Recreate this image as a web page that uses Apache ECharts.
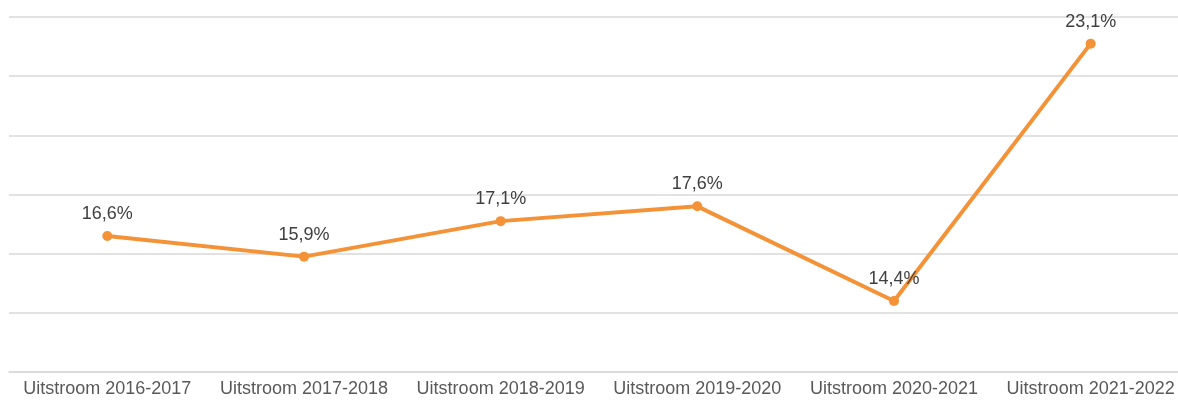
<!DOCTYPE html>
<html>
<head>
<meta charset="utf-8">
<script src="https://cdn.jsdelivr.net/npm/echarts@6/dist/echarts.min.js"></script>
<style>
  html, body { margin: 0; padding: 0; background: #fff; overflow: hidden; }
  /* plot area runs a little past the right edge of the window, like the original */
  #chart { width: 1190px; height: 403px; }
</style>
</head>
<body>
<div id="chart"></div>
<script>
const categories = ['Uitstroom 2016-2017', 'Uitstroom 2017-2018', 'Uitstroom 2018-2019',
  'Uitstroom 2019-2020', 'Uitstroom 2020-2021', 'Uitstroom 2021-2022'];
const values = [16.6, 15.9, 17.1, 17.6, 14.4, 23.1];

const chart = echarts.init(document.getElementById('chart'));
chart.setOption({
  animation: false,
  grid: { left: 9, top: 17, right: 1, bottom: 31, containLabel: false },
  xAxis: {
    type: 'category',
    data: categories,
    boundaryGap: true,
    axisLine: { lineStyle: { color: '#d9d9d9', width: 1.5 } },
    axisTick: { show: false },
    axisLabel: {
      color: '#595959',
      fontFamily: 'Liberation Sans, Arial, sans-serif',
      fontSize: 18,
      margin: 8,
      interval: 0
    }
  },
  yAxis: {
    type: 'value',
    min: 12,
    max: 24,
    interval: 2,
    axisLabel: { show: false },
    axisLine: { show: false },
    axisTick: { show: false },
    splitLine: { lineStyle: { color: '#d9d9d9', width: 1.5 } }
  },
  series: [{
    type: 'line',
    data: values,
    symbol: 'circle',
    symbolSize: 10,
    lineStyle: { color: '#F39237', width: 4 },
    itemStyle: { color: '#F39237' },
    label: {
      show: true,
      position: 'top',
      distance: 8,
      color: '#404040',
      fontFamily: 'Liberation Sans, Arial, sans-serif',
      fontSize: 18,
      formatter: p => p.value.toFixed(1).replace('.', ',') + '%'
    }
  }]
});
</script>
</body>
</html>
